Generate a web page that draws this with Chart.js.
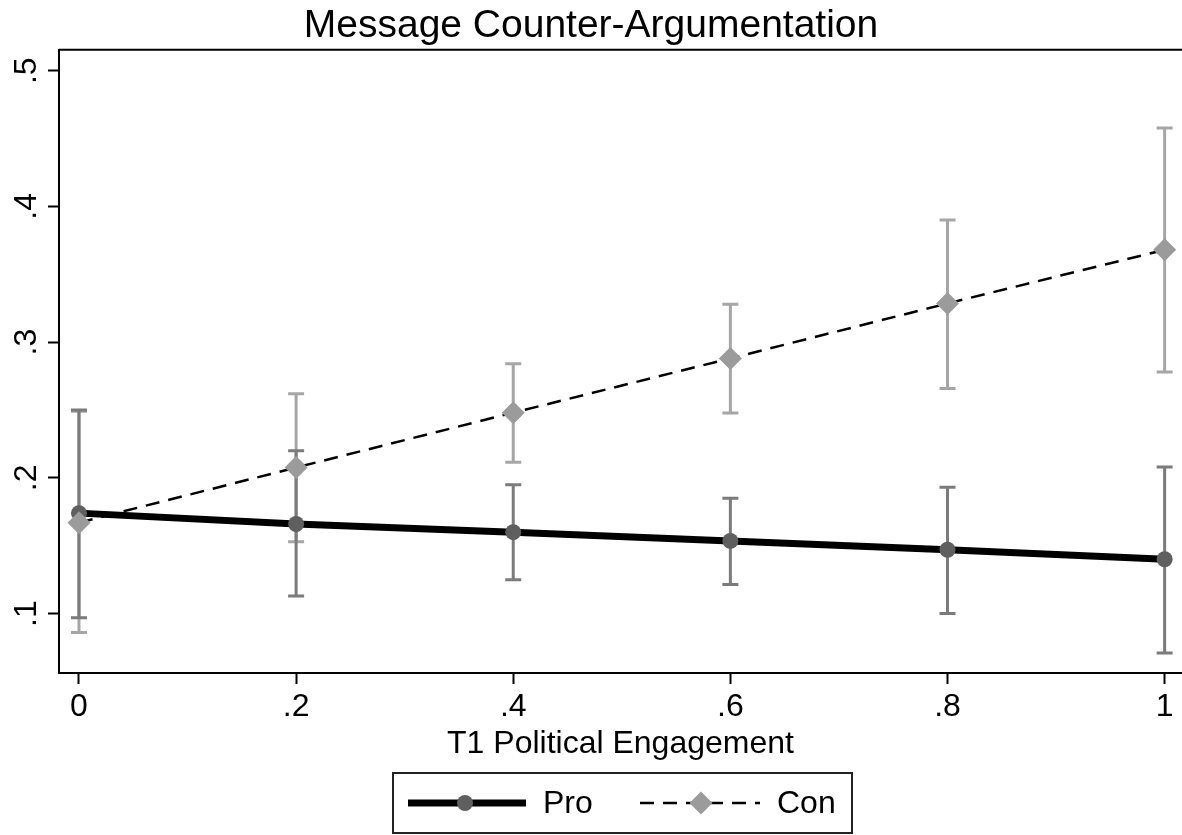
<!DOCTYPE html>
<html>
<head>
<meta charset="utf-8">
<title>Message Counter-Argumentation</title>
<script src="https://cdn.jsdelivr.net/npm/chart.js@4.4.1/dist/chart.umd.min.js"></script>
<style>
  html, body { margin: 0; padding: 0; background: #fff; }
  canvas { display: block; }
</style>
</head>
<body>
<canvas id="myChart" width="1182" height="835"></canvas>
<script>
// Values
var engagement = [0, 0.2, 0.4, 0.6, 0.8, 1];

var proMean = [0.174, 0.166, 0.160, 0.1535, 0.147, 0.140];
var proLow  = [0.097, 0.113, 0.125, 0.1215, 0.100, 0.071];
var proHigh = [0.250, 0.220, 0.195, 0.185, 0.193, 0.208];

var conMean = [0.167, 0.2076, 0.248, 0.288, 0.3285, 0.368];
var conLow  = [0.086, 0.153, 0.2114, 0.2477, 0.2658, 0.278];
var conHigh = [0.249, 0.262, 0.284, 0.328, 0.390, 0.4577];

var xTickValues = [0, 0.2, 0.4, 0.6, 0.8, 1];
var xTickLabels = ['0', '.2', '.4', '.6', '.8', '1'];
var yTickValues = [0.1, 0.2, 0.3, 0.4, 0.5];
var yTickLabels = ['.1', '.2', '.3', '.4', '.5'];

var FONT = '"Liberation Sans", Arial, Helvetica, sans-serif';

function toPoints(xs, ys) {
  var pts = [];
  for (let i = 0; i < xs.length; i++) {
    pts.push({ x: xs[i], y: ys[i] });
  }
  return pts;
}

function tickLabel(values, labels, v) {
  for (let i = 0; i < values.length; i++) {
    if (Math.abs(values[i] - v) < 1e-6) return labels[i];
  }
  return '';
}

// Confidence interval whiskers, drawn with the chart's own scales
var errorBars = {
  id: 'errorBars',
  beforeDatasetsDraw: function(chart) {
    var ctx = chart.ctx;
    var xs = chart.scales.x, ys = chart.scales.y;
    chart.data.datasets.slice().reverse().forEach(function(ds) {
      ctx.save();
      ctx.strokeStyle = ds.ciColor;
      ctx.lineWidth = 3;
      for (let i = 0; i < ds.data.length; i++) {
        var px = xs.getPixelForValue(ds.data[i].x);
        var lo = ys.getPixelForValue(ds.ciLow[i]);
        var hi = ys.getPixelForValue(ds.ciHigh[i]);
        ctx.beginPath();
        ctx.moveTo(px, lo); ctx.lineTo(px, hi);
        ctx.moveTo(px - 8, lo); ctx.lineTo(px + 8, lo);
        ctx.moveTo(px - 8, hi); ctx.lineTo(px + 8, hi);
        ctx.stroke();
      }
      ctx.restore();
    });
  }
};

// Plot box top edge and the boxed legend under the axis title
var frameAndLegend = {
  id: 'frameAndLegend',
  afterDraw: function(chart) {
    var ctx = chart.ctx;
    var area = chart.chartArea;
    ctx.save();
    ctx.strokeStyle = '#000';
    ctx.lineWidth = 2;
    ctx.beginPath();
    ctx.moveTo(area.left, area.top);
    ctx.lineTo(chart.width, area.top);
    ctx.stroke();

    // legend box
    var bx = 393, by = 773, bw = 459, bh = 60, cy = by + bh / 2;
    ctx.strokeStyle = '#222';
    ctx.lineWidth = 2;
    ctx.strokeRect(bx, by, bw, bh);

    var pro = chart.data.datasets[0], con = chart.data.datasets[1];

    ctx.strokeStyle = '#000';
    ctx.lineWidth = pro.borderWidth;
    ctx.beginPath();
    ctx.moveTo(408, cy); ctx.lineTo(526, cy);
    ctx.stroke();
    ctx.fillStyle = pro.pointBackgroundColor;
    ctx.beginPath();
    ctx.arc(465, cy, pro.pointRadius, 0, Math.PI * 2);
    ctx.fill();

    ctx.lineWidth = con.borderWidth;
    ctx.setLineDash(con.borderDash);
    ctx.beginPath();
    ctx.moveTo(640, cy); ctx.lineTo(760, cy);
    ctx.stroke();
    ctx.setLineDash([]);
    ctx.fillStyle = con.pointBackgroundColor;
    var r = con.pointRadius;
    ctx.beginPath();
    ctx.moveTo(701, cy - r); ctx.lineTo(701 + r, cy);
    ctx.lineTo(701, cy + r); ctx.lineTo(701 - r, cy);
    ctx.closePath();
    ctx.fill();

    ctx.fillStyle = '#000';
    ctx.font = '32px ' + FONT;
    ctx.textBaseline = 'middle';
    ctx.textAlign = 'left';
    ctx.fillText(pro.label, 543, cy + 1);
    ctx.fillText(con.label, 777, cy + 1);
    ctx.restore();
  }
};

var ctx = document.getElementById('myChart').getContext('2d');
var myChart = new Chart(ctx, {
  type: 'line',
  data: {
    datasets: [{
      label: 'Pro',
      data: toPoints(engagement, proMean),
      ciLow: proLow,
      ciHigh: proHigh,
      ciColor: '#7b7b7b',
      borderColor: '#000',
      borderWidth: 7,
      pointStyle: 'circle',
      pointRadius: 8,
      pointBackgroundColor: '#5f5f5f',
      pointBorderWidth: 0,
      tension: 0,
      clip: false,
      order: 1
    }, {
      label: 'Con',
      data: toPoints(engagement, conMean),
      ciLow: conLow,
      ciHigh: conHigh,
      ciColor: '#a6a6a6',
      borderColor: '#000',
      borderWidth: 2.5,
      borderDash: [14, 9],
      pointStyle: 'rectRot',
      pointRadius: 11.5,
      pointBackgroundColor: '#9b9b9b',
      pointBorderWidth: 0,
      tension: 0,
      clip: false,
      order: 0
    }]
  },
  options: {
    responsive: false,
    animation: false,
    layout: { autoPadding: false, padding: { left: 0, right: 0, top: 0, bottom: 72 } },
    plugins: {
      legend: { display: false },
      tooltip: { enabled: false },
      title: {
        display: true,
        text: 'Message Counter-Argumentation',
        color: '#000',
        font: { family: FONT, size: 39, weight: 'normal' },
        padding: { top: 3, bottom: 0 }
      }
    },
    scales: {
      x: {
        type: 'linear',
        min: -0.0184,
        max: 1.016,
        border: { display: true, color: '#000', width: 2 },
        grid: { drawOnChartArea: false, drawTicks: true, tickLength: 11, tickColor: '#000', tickWidth: 2 },
        ticks: {
          stepSize: 0.2,
          includeBounds: false,
          padding: 4,
          color: '#000',
          maxRotation: 0,
          font: { family: FONT, size: 32 },
          callback: function(v) { return tickLabel(xTickValues, xTickLabels, v); }
        },
        title: {
          display: true,
          text: 'T1 Political Engagement',
          color: '#000',
          font: { family: FONT, size: 32 },
          padding: { top: 0, bottom: 0 }
        },
        afterFit: function(scale) {
          scale.height = 90;
          scale.paddingLeft = 0;
          scale.paddingRight = 0;
        }
      },
      y: {
        type: 'linear',
        min: 0.0562,
        max: 0.5154,
        border: { display: true, color: '#000', width: 2 },
        grid: { drawOnChartArea: false, drawTicks: true, tickLength: 11, tickColor: '#000', tickWidth: 2 },
        ticks: {
          stepSize: 0.1,
          includeBounds: false,
          minRotation: 90,
          maxRotation: 90,
          crossAlign: 'center',
          padding: 7,
          color: '#000',
          font: { family: FONT, size: 32 },
          callback: function(v) { return tickLabel(yTickValues, yTickLabels, v); }
        },
        afterFit: function(scale) { scale.width = 59; }
      }
    }
  },
  plugins: [errorBars, frameAndLegend]
});
</script>
</body>
</html>
